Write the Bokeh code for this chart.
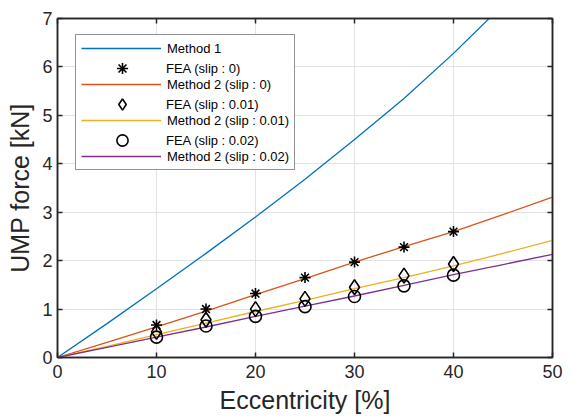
from bokeh.plotting import figure
from bokeh.models import LinearAxis, Legend, LegendItem, Range1d, FixedTicker
from bokeh.embed import file_html
from bokeh.resources import INLINE

# ---- data ----
ecc_line = [0, 5, 10, 15, 20, 25, 30, 35, 40, 45, 50]
method1 = [0, 0.70, 1.42, 2.15, 2.90, 3.68, 4.50, 5.35, 6.28, 7.28, 8.30]
method2_s0 = [0, 0.31, 0.63, 0.96, 1.30, 1.63, 1.97, 2.29, 2.60, 2.95, 3.31]
method2_s001 = [0, 0.23, 0.47, 0.71, 0.95, 1.18, 1.42, 1.65, 1.89, 2.15, 2.42]
method2_s002 = [0, 0.21, 0.42, 0.63, 0.85, 1.06, 1.27, 1.49, 1.71, 1.92, 2.13]

ecc_fea = [10, 15, 20, 25, 30, 35, 40]
fea_s0 = [0.67, 1.00, 1.32, 1.65, 1.97, 2.28, 2.60]
fea_s001 = [0.53, 0.78, 1.00, 1.21, 1.45, 1.69, 1.93]
fea_s002 = [0.42, 0.65, 0.85, 1.05, 1.26, 1.48, 1.70]

x_ticks = [0, 10, 20, 30, 40, 50]
y_ticks = [0, 1, 2, 3, 4, 5, 6, 7]

FONT = "Liberation Sans"
AX = "#262626"

p = figure(width=573, height=419, output_backend="svg", toolbar_location=None,
           x_range=Range1d(0, 50), y_range=Range1d(0, 7),
           min_border_left=57, min_border_right=21, min_border_top=18, min_border_bottom=62)
p.background_fill_color = "white"
p.border_fill_color = "white"
p.outline_line_color = AX
p.outline_line_width = 1.5

for ax in (p.xaxis[0], p.yaxis[0]):
    ax.major_tick_in = 5
    ax.major_tick_out = 0
    ax.minor_tick_line_color = None
    ax.axis_line_color = AX
    ax.axis_line_width = 1.5
    ax.major_tick_line_color = AX
    ax.major_tick_line_width = 1.5
    ax.major_label_text_font = FONT
    ax.major_label_text_font_size = "18px"
    ax.major_label_text_color = AX
    ax.axis_label_text_font = FONT
    ax.axis_label_text_font_size = "25px"
    ax.axis_label_text_font_style = "normal"
    ax.axis_label_text_color = AX

p.xaxis[0].ticker = FixedTicker(ticks=x_ticks)
p.yaxis[0].ticker = FixedTicker(ticks=y_ticks)
p.xaxis[0].axis_label = "Eccentricity [%]"
p.yaxis[0].axis_label = "UMP force [kN]"
p.xaxis[0].major_label_standoff = 7
p.xaxis[0].axis_label_standoff = 5
p.yaxis[0].major_label_standoff = 5
p.yaxis[0].axis_label_standoff = 5

# mirrored axes (top / right) with inward ticks, labels not drawn
top = LinearAxis(ticker=FixedTicker(ticks=x_ticks))
right = LinearAxis(ticker=FixedTicker(ticks=y_ticks))
for ax in (top, right):
    ax.major_tick_in = 5
    ax.major_tick_out = 0
    ax.minor_tick_line_color = None
    ax.axis_line_color = AX
    ax.axis_line_width = 1.5
    ax.major_tick_line_color = AX
    ax.major_tick_line_width = 1.5
    ax.major_label_text_color = None
    ax.major_label_text_font_size = "1px"
    ax.major_label_standoff = 0
p.add_layout(top, "above")
p.add_layout(right, "right")

p.xgrid.ticker = FixedTicker(ticks=x_ticks)
p.ygrid.ticker = FixedTicker(ticks=y_ticks)
p.grid.grid_line_color = "#e2e2e2"
p.grid.grid_line_width = 1

# ---- glyphs ----
r_m1 = p.line(ecc_line, method1, line_color="#0072BD", line_width=1.3)
r_m2a = p.line(ecc_line, method2_s0, line_color="#D95319", line_width=1.3)
r_m2b = p.line(ecc_line, method2_s001, line_color="#EDB120", line_width=1.3)
r_m2c = p.line(ecc_line, method2_s002, line_color="#7E2F8E", line_width=1.3)

r_f0 = p.scatter(ecc_fea, fea_s0, marker="asterisk", size=11, line_color="black", line_width=1.6)
r_f1 = p.scatter(ecc_fea, fea_s001, marker="diamond", size=15, line_color="black",
                 fill_color=None, line_width=1.6)
r_f2 = p.scatter(ecc_fea, fea_s002, marker="circle", size=12, line_color="black",
                 fill_color=None, line_width=1.6)

# Legend: line entries (with frame) and interleaved marker entries (overlay)
leg_lines = Legend(items=[
    LegendItem(label="Method 1", renderers=[r_m1]),
    LegendItem(label="Method 2 (slip : 0)", renderers=[r_m2a]),
    LegendItem(label="Method 2 (slip : 0.01)", renderers=[r_m2b]),
    LegendItem(label="Method 2 (slip : 0.02)", renderers=[r_m2c]),
])
leg_marks = Legend(items=[
    LegendItem(label="FEA (slip : 0)", renderers=[r_f0]),
    LegendItem(label="FEA (slip : 0.01)", renderers=[r_f1]),
    LegendItem(label="FEA (slip : 0.02)", renderers=[r_f2]),
])
for lg in (leg_lines, leg_marks):
    lg.margin = 0
    lg.label_text_font = FONT
    lg.label_text_font_size = "13px"
    lg.label_text_color = "black"
    lg.label_standoff = 6

leg_lines.location = (18, 187)
leg_lines.padding = 5
leg_lines.glyph_width = 80
leg_lines.glyph_height = 16
leg_lines.label_height = 16
leg_lines.spacing = 20
leg_lines.border_line_color = AX
leg_lines.border_line_width = 1
leg_lines.background_fill_color = "white"
leg_lines.background_fill_alpha = 1

leg_marks.location = (27, 203)
leg_marks.padding = 0
leg_marks.glyph_width = 76
leg_marks.glyph_height = 28
leg_marks.label_height = 28
leg_marks.spacing = 8
leg_marks.border_line_color = None
leg_marks.background_fill_alpha = 0

p.add_layout(leg_lines, "center")
p.add_layout(leg_marks, "center")

open("out.html", "w").write(file_html(p, INLINE))
